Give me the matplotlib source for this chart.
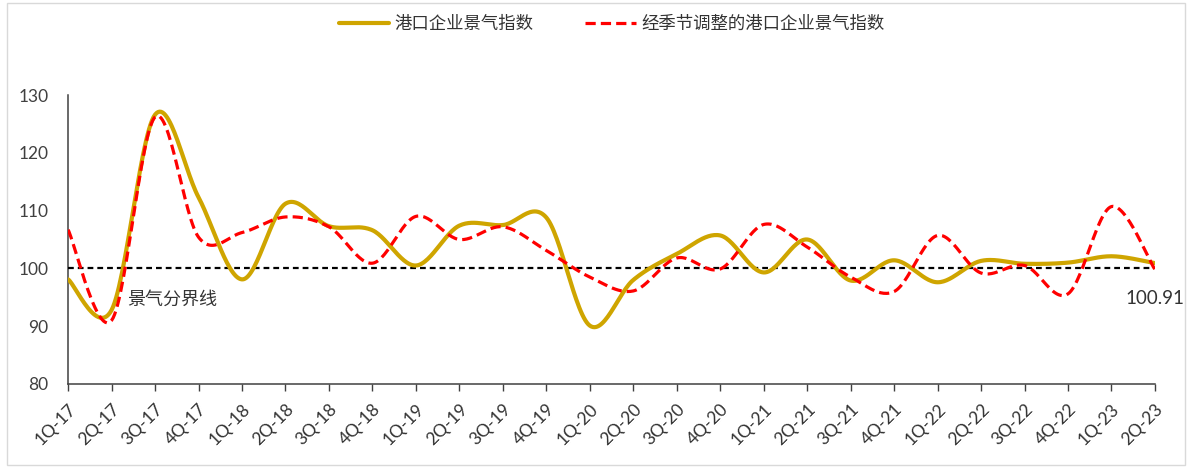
import numpy as np
import matplotlib
matplotlib.use("Agg")
from matplotlib import pyplot
from matplotlib.patches import Rectangle

pyplot.rcParams['font.family'] = ['Lato', 'Noto Sans CJK SC', 'DejaVu Sans']

quarters = ['1Q-17', '2Q-17', '3Q-17', '4Q-17',
            '1Q-18', '2Q-18', '3Q-18', '4Q-18',
            '1Q-19', '2Q-19', '3Q-19', '4Q-19',
            '1Q-20', '2Q-20', '3Q-20', '4Q-20',
            '1Q-21', '2Q-21', '3Q-21', '4Q-21',
            '1Q-22', '2Q-22', '3Q-22', '4Q-22',
            '1Q-23', '2Q-23']

port_index = [98.1, 92.8, 126.6, 112.3, 98.1, 111.2, 107.3, 106.6,
              100.5, 107.4, 107.5, 108.8, 90.1, 98.0, 102.5, 105.7,
              99.3, 105.0, 97.9, 101.4, 97.6, 101.3, 100.8, 101.0,
              102.1, 100.91]

port_index_sa = [106.7, 91.0, 126.2, 105.4, 106.2, 108.9, 107.2, 100.9,
                 109.0, 105.0, 107.2, 103.1, 98.5, 96.1, 101.8, 99.9,
                 107.6, 103.7, 98.5, 96.0, 105.7, 99.2, 100.5, 95.6,
                 110.7, 99.8]

boom_line = 100
last_label = '100.91'


def smooth(values, steps=30):
    # Bezier smoothing through every point, control points from neighbours
    y = np.asarray(values, dtype=float)
    x = np.arange(len(y), dtype=float)
    pts = np.column_stack([x, y])
    padded = np.vstack([pts[0], pts, pts[-1]])
    t = np.linspace(0, 1, steps)[:, None]
    out = []
    for i in range(len(pts) - 1):
        p0, p1, p2, p3 = padded[i], padded[i + 1], padded[i + 2], padded[i + 3]
        c1 = p1 + (p2 - p0) / 6
        c2 = p2 - (p3 - p1) / 6
        seg = ((1 - t) ** 3) * p1 + 3 * ((1 - t) ** 2) * t * c1 \
            + 3 * (1 - t) * t ** 2 * c2 + t ** 3 * p2
        out.append(seg if i == 0 else seg[1:])
    seg = np.vstack(out)
    return seg[:, 0], seg[:, 1]


fig = pyplot.figure(figsize=(11.95, 4.68), dpi=100)
ax = fig.add_axes([0.057, 0.1795, 0.9095, 0.6175])

# light frame round the whole chart
fig.patches.append(Rectangle((0.006, 0.006), 0.986, 0.988, transform=fig.transFigure,
                             fill=False, ec='#d9d9d9', lw=1.0))

gold = '#CFA500'
red = '#FF0000'

xs, ys = smooth(port_index)
ax.plot(xs, ys, color=gold, lw=3.0, solid_capstyle='round', label='港口企业景气指数', zorder=3)
xs, ys = smooth(port_index_sa)
ax.plot(xs, ys, color=red, lw=2.3, dashes=(3.2, 1.6), label='经季节调整的港口企业景气指数', zorder=4)

ax.axhline(boom_line, color='black', lw=1.6, dashes=(2.6, 1.8), zorder=2)
ax.text(1.35, 94.6, '景气分界线', fontsize=13, color='#333333',
        family=['Noto Sans CJK SC', 'DejaVu Sans'], va='center', ha='left')
ax.text(len(quarters) - 1, 94.8, last_label, fontsize=13.5, color='#333333',
        va='center', ha='center')

ax.set_xlim(0, len(quarters) - 1)
ax.set_ylim(80, 130)
ax.set_yticks(np.arange(80, 131, 10))
ax.set_xticks(np.arange(len(quarters)))
ax.set_xticklabels(quarters, rotation=45, ha='right', rotation_mode='anchor',
                   fontsize=12.5, color='#333333')
ax.tick_params(axis='x', direction='out', length=5, width=1.0, color='#404040', pad=7)
ax.tick_params(axis='y', length=0, pad=14, labelsize=12.5, labelcolor='#404040')

for side in ['top', 'right']:
    ax.spines[side].set_visible(False)
for side in ['left', 'bottom']:
    ax.spines[side].set_color('#404040')
    ax.spines[side].set_linewidth(1.1)
ax.spines['left'].set_zorder(1)

leg = ax.legend(loc='upper center', bbox_to_anchor=(0.5, 1.33), ncol=2, frameon=False,
                handlelength=2.9, handletextpad=0.3, columnspacing=3.0,
                prop={'family': ['Noto Sans CJK SC', 'DejaVu Sans'], 'size': 12.5})
for t in leg.get_texts():
    t.set_color('#333333')

fig.savefig('out.png', dpi=100)
